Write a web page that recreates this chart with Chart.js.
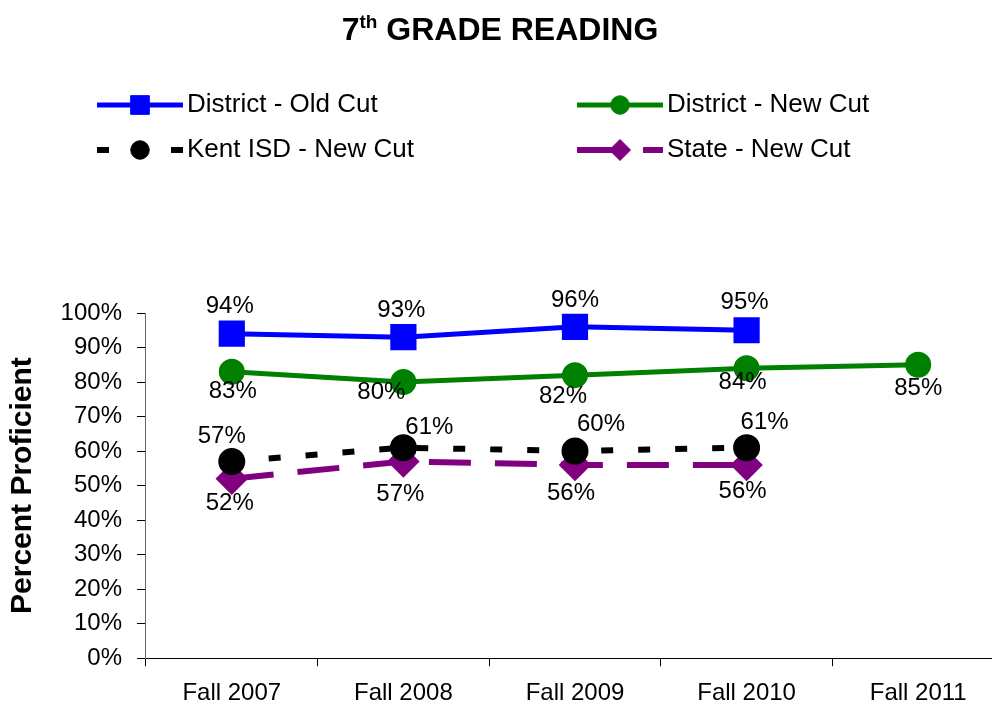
<!DOCTYPE html>
<html>
<head>
<meta charset="utf-8">
<title>7th Grade Reading</title>
<script src="https://cdn.jsdelivr.net/npm/chart.js@4.4.0/dist/chart.umd.min.js"></script>
<style>
  html, body { margin: 0; padding: 0; background: #fff; overflow: hidden; }
  #wrap { width: 1004px; height: 707px; }
</style>
</head>
<body>
<div id="wrap"><canvas id="myChart" width="1004" height="707"></canvas></div>
<script>
// chart data
const years = ['Fall 2007', 'Fall 2008', 'Fall 2009', 'Fall 2010', 'Fall 2011'];
const districtOld = [94, 93, 96, 95, null];
const districtNew = [83, 80, 82, 84, 85];
const kentNew = [57, 61, 60, 61, null];
const stateNew = [52, 57, 56, 56, null];
const yTicks = [0, 10, 20, 30, 40, 50, 60, 70, 80, 90, 100];

const FONT = "'Liberation Sans', Arial, sans-serif";

// where each value label sits relative to its point (dx, dy)
const labelNudge = [
  [[-2, -27], [-2, -27], [0, -26], [-2, -28]],
  [[1, 20], [-22, 10], [-12, 21], [-4, 14], [0, 24]],
  [[-10, -25], [26, -20], [26, -27], [18, -25]],
  [[-2, 25], [-3, 33], [-4, 28], [-4, 26]]
];

// title with superscript "th"
const titlePlugin = {
  id: 'gradeTitle',
  afterDraw(chart) {
    const ctx = chart.ctx;
    ctx.save();
    ctx.fillStyle = '#000';
    ctx.textBaseline = 'alphabetic';
    const big = 'bold 32px ' + FONT, small = 'bold 19px ' + FONT;
    ctx.font = big;
    const w7 = ctx.measureText('7').width;
    const wRest = ctx.measureText(' GRADE READING').width;
    ctx.font = small;
    const wTh = ctx.measureText('th').width;
    let x = 500 - (w7 + wTh + wRest) / 2;
    ctx.font = big;
    ctx.fillText('7', x, 40);
    x += w7;
    ctx.font = small;
    ctx.fillText('th', x, 28);
    x += wTh;
    ctx.font = big;
    ctx.fillText(' GRADE READING', x, 40);
    ctx.restore();
  }
};

// two column legend like the original
const legendPlugin = {
  id: 'gridLegend',
  afterDraw(chart) {
    const ctx = chart.ctx;
    const spots = [[97, 112], [577, 112], [97, 157], [577, 157]];
    chart.data.datasets.forEach((ds, i) => {
      const [x0, base] = spots[i];
      const ly = base - 7;
      ctx.save();
      ctx.strokeStyle = ds.borderColor;
      ctx.lineWidth = ds.borderWidth;
      ctx.setLineDash(ds.borderDash || []);
      ctx.beginPath();
      ctx.moveTo(x0, ly);
      ctx.lineTo(x0 + 86, ly);
      ctx.stroke();
      ctx.setLineDash([]);
      ctx.fillStyle = ds.pointBackgroundColor;
      ctx.strokeStyle = ds.pointBackgroundColor;
      ctx.lineWidth = 1;
      Chart.helpers.drawPoint(ctx, {
        pointStyle: ds.pointStyle,
        radius: ds.pointRadius * 0.88,
        borderWidth: 1,
        rotation: 0
      }, x0 + 43, ly);
      ctx.fillStyle = '#000';
      ctx.font = '26px ' + FONT;
      ctx.textBaseline = 'alphabetic';
      ctx.fillText(ds.label, x0 + 90, base);
      ctx.restore();
    });
  }
};

// value labels next to the points
const valuePlugin = {
  id: 'valueLabels',
  afterDatasetsDraw(chart) {
    const ctx = chart.ctx;
    ctx.save();
    ctx.font = '24px ' + FONT;
    ctx.fillStyle = '#000';
    ctx.textAlign = 'center';
    ctx.textBaseline = 'middle';
    chart.data.datasets.forEach((ds, i) => {
      const meta = chart.getDatasetMeta(i);
      meta.data.forEach((pt, j) => {
        const v = ds.data[j];
        if (v === null || v === undefined) return;
        const [dx, dy] = labelNudge[i][j] || [0, 0];
        ctx.fillText(v + '%', pt.x + dx, pt.y + dy);
      });
    });
    ctx.restore();
  }
};

const ctx = document.getElementById('myChart').getContext('2d');
const myChart = new Chart(ctx, {
  type: 'line',
  data: {
    labels: years,
    datasets: [{
      label: 'District - Old Cut',
      data: districtOld,
      borderColor: '#0000ff',
      backgroundColor: '#0000ff',
      pointBackgroundColor: '#0000ff',
      pointBorderColor: '#0000ff',
      borderWidth: 5,
      pointStyle: 'rect',
      pointRadius: 15,
      tension: 0
    }, {
      label: 'District - New Cut',
      data: districtNew,
      borderColor: '#008000',
      backgroundColor: '#008000',
      pointBackgroundColor: '#008000',
      pointBorderColor: '#008000',
      borderWidth: 5,
      pointStyle: 'circle',
      pointRadius: 10.5,
      tension: 0
    }, {
      label: 'Kent ISD - New Cut',
      data: kentNew,
      borderColor: '#000000',
      backgroundColor: '#000000',
      pointBackgroundColor: '#000000',
      pointBorderColor: '#000000',
      borderWidth: 6,
      borderDash: [12, 25],
      pointStyle: 'circle',
      pointRadius: 10.5,
      tension: 0
    }, {
      label: 'State - New Cut',
      data: stateNew,
      borderColor: '#800080',
      backgroundColor: '#800080',
      pointBackgroundColor: '#800080',
      pointBorderColor: '#800080',
      borderWidth: 6,
      borderDash: [42, 24],
      pointStyle: 'rectRot',
      pointRadius: 12,
      tension: 0
    }]
  },
  options: {
    responsive: false,
    animation: false,
    devicePixelRatio: 1,
    layout: {
      autoPadding: false,
      padding: { top: 313, left: 0, right: 0, bottom: -14 }
    },
    plugins: {
      legend: { display: false },
      title: { display: false },
      tooltip: { enabled: false }
    },
    scales: {
      x: {
        offset: true,
        grid: {
          offset: true,
          drawOnChartArea: false,
          tickLength: 8,
          color: '#000'
        },
        border: { color: '#000', width: 1 },
        ticks: {
          color: '#000',
          padding: 13,
          maxRotation: 0,
          font: { family: FONT, size: 24 }
        }
      },
      y: {
        min: 0,
        max: 100,
        afterBuildTicks: (scale) => {
          scale.ticks = yTicks.map(v => ({ value: v }));
        },
        grid: {
          drawOnChartArea: false,
          tickLength: 9,
          color: '#000'
        },
        border: { color: '#666', width: 1 },
        ticks: {
          color: '#000',
          padding: 15,
          font: { family: FONT, size: 24 },
          callback: (v) => v + '%'
        },
        title: {
          display: true,
          text: 'Percent Proficient',
          color: '#000',
          font: { family: FONT, size: 30, weight: 'bold' },
          padding: { top: 5, bottom: 4.6 }
        }
      }
    }
  },
  plugins: [titlePlugin, legendPlugin, valuePlugin]
});
</script>
</body>
</html>
